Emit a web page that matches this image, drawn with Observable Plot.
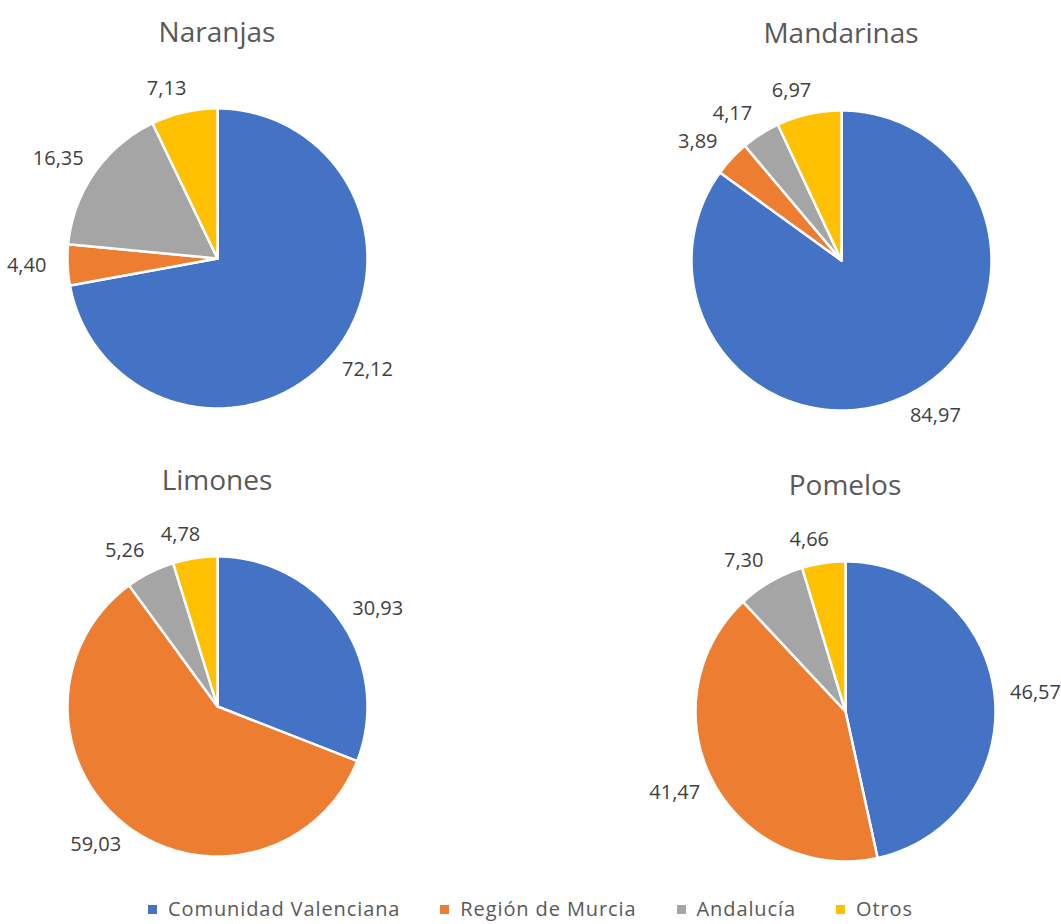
<!DOCTYPE html>
<html>
<head>
<meta charset="utf-8">
<script src="https://cdn.jsdelivr.net/npm/d3@7"></script>
<script src="https://cdn.jsdelivr.net/npm/@observablehq/plot@0.6"></script>
<style>
  body { margin: 0; background: #fff; font-family: "Open Sans", sans-serif; overflow: hidden; }
  #root { position: relative; width: 1061px; height: 924px; overflow: hidden; }
  .panel { position: absolute; width: 434px; height: 400px; }
  .panel svg { overflow: visible; background: transparent; }
  .title { position: absolute; width: 434px; text-align: center; font-size: 28px; line-height: 28px; color: #595959; }
  .legend { position: absolute; left: 0; width: 1061px; top: 899px; display: flex; justify-content: center; align-items: center; font-size: 20px; line-height: 20px; color: #595959; letter-spacing: 0.9px; }
  .legend .item { display: flex; align-items: center; margin: 0 20px; }
  .legend .sw { width: 9px; height: 9px; margin-right: 11px; display: inline-block; }
</style>
</head>
<body>
<div id="root"></div>
<script>
// ---- data ----
const regions = ["Comunidad Valenciana", "Región de Murcia", "Andalucía", "Otros"];
const colors = ["#4472C4", "#ED7D31", "#A5A5A5", "#FFC000"];
const fruits = ["Naranjas", "Mandarinas", "Limones", "Pomelos"];
const naranjas = [72.12, 4.40, 16.35, 7.13];
const mandarinas = [84.97, 3.89, 4.17, 6.97];
const limones = [30.93, 59.03, 5.26, 4.78];
const pomelos = [46.57, 41.47, 7.30, 4.66];
const seriesByFruit = [naranjas, mandarinas, limones, pomelos];

// ---- layout (style only) ----
const layout = [
  {left: 0,   top: 58,  titleTop: 17},
  {left: 624, top: 60,  titleTop: 18},
  {left: 0,   top: 506, titleTop: 465},
  {left: 628, top: 511, titleTop: 470}
];
const W = 434, H = 400, R = 150;

const root = document.getElementById("root");
const fmt = v => d3.format(".2f")(v).replace(".", ",");

fruits.forEach((fruit, i) => {
  const values = seriesByFruit[i];
  const table = regions.map((r, j) => ({region: r, value: values[j]}));
  const arcs = d3.pie().sort(null).value(d => d.value).startAngle(0).endAngle(2 * Math.PI)(table);

  const pts = [];
  const labels = [];
  arcs.forEach(a => {
    const region = a.data.region;
    pts.push({region, x: 0, y: 0});
    const n = Math.max(2, Math.ceil((a.endAngle - a.startAngle) / (Math.PI / 180)));
    for (let k = 0; k <= n; k++) {
      const t = a.startAngle + (a.endAngle - a.startAngle) * k / n;
      pts.push({region, x: R * Math.sin(t), y: R * Math.cos(t)});
    }
    const mid = (a.startAngle + a.endAngle) / 2;
    const s = Math.sin(mid), c = Math.cos(mid);
    const text = fmt(a.data.value);
    labels.push({
      text,
      x: (R + 18) * s + 23 * Math.sign(s) * Math.pow(Math.abs(s), 0.35),
      y: (R + 18) * c + 6 * c
    });
  });

  const chart = Plot.plot({
    width: W,
    height: H,
    margin: 0,
    style: {fontFamily: "'Open Sans', sans-serif", background: "transparent", overflow: "visible"},
    x: {domain: [-W / 2, W / 2], axis: null},
    y: {domain: [-H / 2, H / 2], axis: null},
    color: {domain: regions, range: colors},
    marks: [
      Plot.line(pts, {x: "x", y: "y", z: "region", fill: "region", stroke: "white", strokeWidth: 2.5, strokeLinejoin: "round", curve: "linear-closed"}),
      Plot.text(labels, {x: "x", y: "y", text: "text", fontSize: 20, fill: "#404040"})
    ]
  });

  const panel = document.createElement("div");
  panel.className = "panel";
  panel.style.left = layout[i].left + "px";
  panel.style.top = layout[i].top + "px";
  panel.appendChild(chart);
  root.appendChild(panel);

  const title = document.createElement("div");
  title.className = "title";
  title.textContent = fruit;
  title.style.left = layout[i].left + "px";
  title.style.top = layout[i].titleTop + "px";
  root.appendChild(title);
});

// legend
const legend = document.createElement("div");
legend.className = "legend";
regions.forEach((r, j) => {
  const item = document.createElement("span");
  item.className = "item";
  const sw = document.createElement("span");
  sw.className = "sw";
  sw.style.background = colors[j];
  const lab = document.createElement("span");
  lab.textContent = r;
  item.appendChild(sw);
  item.appendChild(lab);
  legend.appendChild(item);
});
root.appendChild(legend);
</script>
</body>
</html>
